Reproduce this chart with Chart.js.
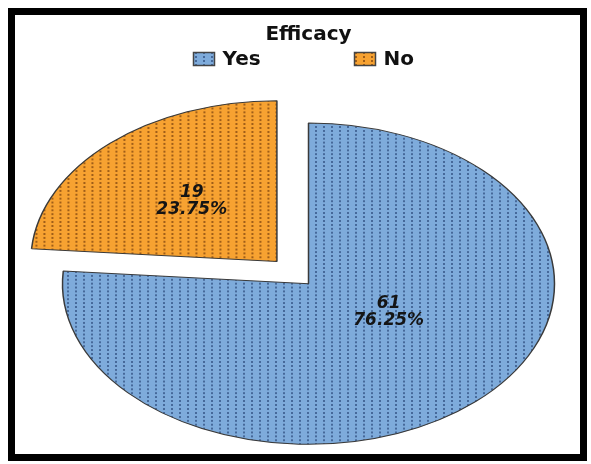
<!DOCTYPE html>
<html>
<head>
<meta charset="utf-8">
<script src="https://cdn.jsdelivr.net/npm/chart.js@4.4.1/dist/chart.umd.min.js"></script>
<style>
  html, body { margin: 0; padding: 0; background: #fff; }
  #wrap { position: relative; width: 591px; height: 464px; }
  #pie-chart { position: absolute; left: 0; top: 0; }
  #frame {
    position: absolute; left: 8px; top: 8px;
    width: 565px; height: 439px;
    border: 7px solid #000;
    pointer-events: none;
  }
</style>
</head>
<body>
<div id="wrap">
  <canvas id="pie-chart" width="591" height="464"></canvas>
  <div id="frame"></div>
</div>
<script>
const chartTitle = "Efficacy";
const categories = ["Yes", "No"];
const counts = [61, 19];

// the picture is stretched sideways, so the pie is drawn flattened
const squash = 0.653;

function dotted(base, dot, h) {
  const tile = document.createElement("canvas");
  tile.width = 8;
  tile.height = h;
  const t = tile.getContext("2d");
  t.fillStyle = base;
  t.fillRect(0, 0, 8, h);
  t.fillStyle = dot;
  t.fillRect(3, 0, 2, h / 2);
  return t.createPattern(tile, "repeat");
}

const baseColors = ["#7eabdb", "#f7a231"];
const dotColors = ["#46699a", "#a05e18"];
const sliceFills = baseColors.map((c, i) => dotted(c, dotColors[i], 6));
const legendFills = baseColors.map((c, i) => dotted(c, dotColors[i], 4));

const total = counts.reduce((a, b) => a + b, 0);

const flatten = {
  id: "flatten",
  beforeDatasetsDraw(chart) {
    const arc = chart.getDatasetMeta(0).data[0];
    const ctx = chart.ctx;
    ctx.save();
    ctx.translate(0, arc.y);
    ctx.scale(1, squash);
    ctx.translate(0, -arc.y);
  },
  afterDatasetsDraw(chart, args, opts) {
    const ctx = chart.ctx;
    ctx.restore();

    ctx.save();
    ctx.font = opts.font;
    ctx.fillStyle = "#151515";
    ctx.textAlign = "center";
    ctx.textBaseline = "middle";
    chart.getDatasetMeta(0).data.forEach((arc, i) => {
      const p = arc.getProps(["x", "y", "startAngle", "endAngle", "outerRadius"], true);
      const mid = (p.startAngle + p.endAngle) / 2;
      const turn = mid + opts.turn[i] * Math.PI / 180;
      const push = (arc.options.offset || 0) / 4;
      const d = opts.radius[i] * p.outerRadius;
      const x = p.x + Math.cos(mid) * push + Math.cos(turn) * d;
      const yc = p.y + Math.sin(mid) * push + Math.sin(turn) * d;
      const y = p.y + (yc - p.y) * squash;
      const pct = (counts[i] / total * 100).toFixed(2) + "%";
      ctx.fillText(String(counts[i]), x, y - 8.5);
      ctx.fillText(pct, x, y + 8.5);
    });
    ctx.restore();
  },
};

const boxLegend = {
  id: "boxLegend",
  afterDraw(chart, args, opts) {
    const ctx = chart.ctx;
    const cx = (chart.chartArea.left + chart.chartArea.right) / 2;
    ctx.save();
    ctx.font = opts.font;
    ctx.textBaseline = "middle";
    chart.data.labels.forEach((label, i) => {
      const x = cx + opts.starts[i];
      ctx.fillStyle = legendFills[i];
      ctx.fillRect(x, opts.y - 6.5, 21, 13);
      ctx.strokeStyle = "#444";
      ctx.lineWidth = 1.5;
      ctx.strokeRect(x, opts.y - 6.5, 21, 13);
      ctx.fillStyle = "#111";
      ctx.fillText(label, x + 29, opts.y + 1);
    });
    ctx.restore();
  },
};

new Chart(document.getElementById("pie-chart"), {
  type: "pie",
  data: {
    labels: categories,
    datasets: [
      {
        data: counts,
        backgroundColor: sliceFills,
        borderColor: "#3a3a3a",
        borderWidth: 1.5,
        offset: [0, 186],
        hoverOffset: 0,
      },
    ],
  },
  options: {
    responsive: false,
    animation: false,
    radius: 246,
    layout: {
      padding: { top: 23, left: 26, right: 0, bottom: 0 },
    },
    plugins: {
      title: {
        display: true,
        text: chartTitle,
        color: "#111",
        font: { family: "DejaVu Sans", size: 20, weight: "bold", lineHeight: 1.2 },
        padding: { top: 0, bottom: 56.4 },
      },
      legend: { display: false },
      tooltip: { enabled: false },
      flatten: {
        font: "italic bold 17px 'DejaVu Sans'",
        radius: [0.37, 0.51],
        turn: [-19, 0],
      },
      boxLegend: {
        font: "bold 20px 'DejaVu Sans'",
        y: 59,
        starts: [-115, 46],
      },
    },
  },
  plugins: [flatten, boxLegend],
});
</script>
</body>
</html>
